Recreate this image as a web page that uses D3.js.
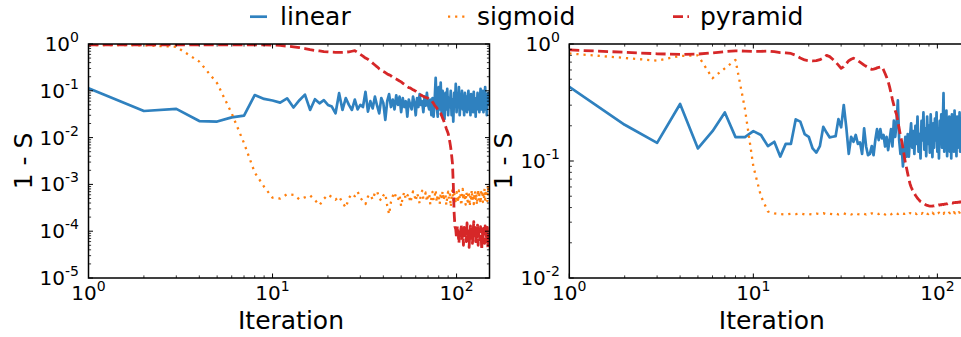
<!DOCTYPE html>
<html>
<head>
<meta charset="utf-8">
<script src="https://cdn.jsdelivr.net/npm/d3@7"></script>
<style>
  html, body { margin: 0; padding: 0; background: #fff; }
  svg { display: block; font-family: "DejaVu Sans", sans-serif; }
</style>
</head>
<body>
<svg id="chart" width="961" height="337"></svg>
<script>
// ---- data -------------------------------------------------------------
const iterations = d3.range(1, 151);            // iteration 1 .. 150
const seriesNames = ["linear", "sigmoid", "pyramid"];

const xTickExponents = [0, 1, 2];
const leftYTickExponents = [0, -1, -2, -3, -4, -5];
const rightYTickExponents = [0, -1, -2];
const xLabel = "Iteration";
const yLabel = "1 - S";

// left panel: 1 - S per iteration
const leftLinear = [
  0.113, 0.037, 0.041, 0.0226, 0.022, 0.027, 0.0295, 0.081, 0.067, 0.062,
  0.056, 0.069, 0.044, 0.063, 0.083, 0.039, 0.066, 0.054, 0.063, 0.05,
  0.046, 0.033, 0.089, 0.039, 0.07, 0.05, 0.039, 0.065, 0.04, 0.05,
  0.045, 0.095, 0.036, 0.06, 0.042, 0.075, 0.048, 0.033, 0.07, 0.055,
  0.024, 0.06, 0.085, 0.045, 0.065, 0.04, 0.08, 0.05, 0.075, 0.035,
  0.07, 0.045, 0.06, 0.028, 0.065, 0.05, 0.04, 0.075, 0.055, 0.03,
  0.07, 0.045, 0.085, 0.05, 0.06, 0.035, 0.075, 0.048, 0.09, 0.05,
  0.04, 0.065, 0.03, 0.07, 0.028, 0.06, 0.19, 0.05, 0.028, 0.12,
  0.04, 0.15, 0.03, 0.1, 0.035, 0.025, 0.09, 0.04, 0.11, 0.03,
  0.07, 0.045, 0.1, 0.03, 0.065, 0.022, 0.09, 0.05, 0.14, 0.035,
  0.08, 0.045, 0.12, 0.03, 0.07, 0.055, 0.1, 0.04, 0.065, 0.03,
  0.09, 0.05, 0.075, 0.035, 0.06, 0.1, 0.04, 0.07, 0.03, 0.085,
  0.045, 0.06, 0.035, 0.095, 0.05, 0.07, 0.028, 0.065, 0.04, 0.09,
  0.05, 0.075, 0.035, 0.06, 0.11, 0.04, 0.08, 0.045, 0.1, 0.035,
  0.065, 0.05, 0.12, 0.04, 0.085, 0.03, 0.07, 0.05, 0.09, 0.06
];
const leftSigmoid = [
  0.95, 0.94, 0.87, 0.42, 0.145, 0.033, 0.0076, 0.0018, 8.9e-4, 5.2e-4,
  5.0e-4, 6.2e-4, 6.0e-4, 4.8e-4, 5.3e-4, 5.8e-4, 4.6e-4, 3.6e-4, 4.9e-4, 6.0e-4,
  5.4e-4, 4.7e-4, 5.5e-4, 4.1e-4, 3.2e-4, 5.1e-4, 6.3e-4, 5.6e-4, 7.0e-4, 5.2e-4,
  4.4e-4, 3.8e-4, 5.5e-4, 6.1e-4, 4.7e-4, 6.6e-4, 7.2e-4, 5.0e-4, 4.5e-4, 5.8e-4,
  6.4e-4, 3.5e-4, 2.3e-4, 4.2e-4, 5.6e-4, 6.8e-4, 5.1e-4, 4.6e-4, 6.0e-4, 3.4e-4,
  5.4e-4, 6.9e-4, 4.8e-4, 5.7e-4, 6.3e-4, 4.1e-4, 5.2e-4, 7.1e-4, 5.9e-4, 4.4e-4,
  6.5e-4, 5.3e-4, 3.9e-4, 6.2e-4, 7.3e-4, 4.9e-4, 5.6e-4, 6.7e-4, 4.3e-4, 5.8e-4,
  6.4e-4, 3.7e-4, 5.1e-4, 6.9e-4, 4.6e-4, 5.5e-4, 7.6e-4, 4.2e-4, 6.1e-4, 5.3e-4,
  3.8e-4, 6.6e-4, 5.0e-4, 7.2e-4, 4.5e-4, 5.9e-4, 6.3e-4, 3.6e-4, 5.4e-4, 7.0e-4,
  4.8e-4, 6.1e-4, 3.3e-4, 5.7e-4, 7.8e-4, 4.4e-4, 6.4e-4, 5.2e-4, 3.9e-4, 6.8e-4,
  5.5e-4, 4.1e-4, 7.4e-4, 5.0e-4, 6.2e-4, 3.5e-4, 5.8e-4, 8.0e-4, 4.7e-4, 6.5e-4,
  5.1e-4, 3.7e-4, 6.9e-4, 5.4e-4, 4.3e-4, 7.1e-4, 5.9e-4, 3.4e-4, 6.3e-4, 5.0e-4,
  7.7e-4, 4.6e-4, 6.0e-4, 3.8e-4, 5.6e-4, 7.3e-4, 4.9e-4, 6.4e-4, 3.6e-4, 5.3e-4,
  7.9e-4, 4.5e-4, 6.1e-4, 5.2e-4, 3.9e-4, 6.8e-4, 5.5e-4, 7.4e-4, 4.2e-4, 6.2e-4,
  5.0e-4, 8.3e-4, 4.7e-4, 6.6e-4, 5.3e-4, 7.5e-4, 4.4e-4, 9.8e-4, 6.9e-4, 8.8e-4
];
const leftPyramid = [
  0.96, 0.96, 0.96, 0.96, 0.96, 0.96, 0.96, 0.96, 0.955, 0.95,
  0.93, 0.9, 0.87, 0.84, 0.8, 0.76, 0.73, 0.71, 0.69, 0.68,
  0.67, 0.665, 0.665, 0.665, 0.67, 0.68, 0.7, 0.72, 0.66, 0.6,
  0.55, 0.5, 0.47, 0.43, 0.39, 0.355, 0.325, 0.295, 0.275, 0.257,
  0.245, 0.229, 0.219, 0.209, 0.195, 0.186, 0.178, 0.17, 0.162, 0.155,
  0.145, 0.138, 0.132, 0.123, 0.117, 0.115, 0.11, 0.105, 0.102, 0.098,
  0.093, 0.089, 0.085, 0.081, 0.079, 0.076, 0.074, 0.072, 0.071, 0.069,
  0.066, 0.065, 0.063, 0.058, 0.054, 0.049, 0.046, 0.043, 0.039, 0.036,
  0.035, 0.033, 0.0295, 0.026, 0.0234, 0.0204, 0.0178, 0.0155, 0.0138, 0.0123,
  0.01, 0.0079, 0.006, 0.0042, 0.0028, 0.001, 2.5e-4, 1.26e-4, 1.1e-4, 0.7e-4,
  1.3e-4, 0.9e-4, 0.55e-4, 1.0e-4, 0.8e-4, 1.4e-4, 0.65e-4, 0.95e-4, 0.5e-4, 1.2e-4,
  0.85e-4, 1.05e-4, 0.6e-4, 1.5e-4, 0.75e-4, 1.0e-4, 0.45e-4, 0.9e-4, 1.3e-4, 0.7e-4,
  1.1e-4, 0.55e-4, 0.95e-4, 1.6e-4, 0.8e-4, 1.2e-4, 0.6e-4, 1.0e-4, 0.75e-4, 1.35e-4,
  0.5e-4, 0.9e-4, 1.1e-4, 0.65e-4, 1.25e-4, 0.85e-4, 0.4e-4, 1.0e-4, 0.7e-4, 1.15e-4,
  0.9e-4, 0.55e-4, 1.3e-4, 0.8e-4, 1.0e-4, 0.6e-4, 1.2e-4, 0.45e-4, 0.95e-4, 0.7e-4
];

// right panel: 1 - S per iteration
const rightLinear = [
  0.43, 0.204, 0.143, 0.307, 0.128, 0.18, 0.26, 0.16, 0.16, 0.18,
  0.167, 0.134, 0.146, 0.109, 0.14, 0.14, 0.227, 0.217, 0.17, 0.161,
  0.128, 0.118, 0.134, 0.196, 0.175, 0.159, 0.161, 0.163, 0.228, 0.194,
  0.301, 0.194, 0.115, 0.161, 0.146, 0.167, 0.14, 0.144, 0.115, 0.19,
  0.133, 0.112, 0.115, 0.134, 0.112, 0.151, 0.187, 0.151, 0.187, 0.156,
  0.167, 0.133, 0.161, 0.124, 0.151, 0.187, 0.133, 0.221, 0.161, 0.21,
  0.33, 0.151, 0.115, 0.133, 0.09, 0.124, 0.161, 0.109, 0.17, 0.109,
  0.16, 0.21, 0.13, 0.18, 0.115, 0.2, 0.14, 0.24, 0.12, 0.17,
  0.105, 0.22, 0.15, 0.26, 0.125, 0.19, 0.11, 0.24, 0.14, 0.2,
  0.118, 0.25, 0.16, 0.108, 0.21, 0.13, 0.23, 0.15, 0.26, 0.12,
  0.19, 0.105, 0.22, 0.14, 0.25, 0.13, 0.2, 0.38, 0.12, 0.23,
  0.15, 0.27, 0.11, 0.21, 0.14, 0.24, 0.12, 0.19, 0.105, 0.25,
  0.15, 0.22, 0.12, 0.27, 0.14, 0.2, 0.11, 0.24, 0.16, 0.21,
  0.13, 0.26, 0.12, 0.2, 0.15, 0.23, 0.11, 0.19, 0.14, 0.22,
  0.12, 0.25, 0.16, 0.2, 0.13, 0.24, 0.11, 0.21, 0.15, 0.19
];
const rightSigmoid = [
  0.83, 0.76, 0.72, 0.79, 0.8, 0.51, 0.62, 0.73, 0.28, 0.09,
  0.05, 0.037, 0.0356, 0.0352, 0.0349, 0.0354, 0.0351, 0.0357, 0.035, 0.0353,
  0.0348, 0.0355, 0.0352, 0.0358, 0.035, 0.0354, 0.0351, 0.0356, 0.0349, 0.0353,
  0.0357, 0.0351, 0.0355, 0.0349, 0.0354, 0.0358, 0.0352, 0.035, 0.0356, 0.0353,
  0.0349, 0.0355, 0.0351, 0.0357, 0.0353, 0.035, 0.0355, 0.0352, 0.0358, 0.0351,
  0.0354, 0.0349, 0.0356, 0.0352, 0.0355, 0.035, 0.0357, 0.0353, 0.0351, 0.0356,
  0.0352, 0.0358, 0.0354, 0.035, 0.0355, 0.0353, 0.0357, 0.0351, 0.0356, 0.0352,
  0.0359, 0.0354, 0.0351, 0.0357, 0.0353, 0.0356, 0.0352, 0.0358, 0.0355, 0.0351,
  0.0357, 0.0354, 0.0359, 0.0352, 0.0356, 0.0353, 0.036, 0.0355, 0.0352, 0.0358,
  0.0354, 0.0357, 0.0353, 0.0361, 0.0356, 0.0352, 0.0358, 0.0355, 0.036, 0.0354,
  0.0357, 0.0362, 0.0355, 0.0359, 0.0356, 0.0361, 0.0357, 0.0354, 0.0362, 0.0358,
  0.036, 0.0356, 0.0363, 0.0359, 0.0357, 0.0362, 0.0358, 0.0364, 0.036, 0.0357,
  0.0363, 0.0359, 0.0365, 0.0361, 0.0358, 0.0364, 0.036, 0.0366, 0.0362, 0.0359,
  0.0365, 0.0362, 0.0367, 0.0363, 0.036, 0.0366, 0.0363, 0.0368, 0.0364, 0.0361,
  0.0367, 0.0364, 0.0369, 0.0365, 0.0362, 0.0368, 0.0365, 0.037, 0.0366, 0.0368
];
const rightPyramid = [
  0.89, 0.85, 0.825, 0.815, 0.82, 0.84, 0.86, 0.875, 0.87, 0.865,
  0.865, 0.87, 0.86, 0.845, 0.84, 0.83, 0.8, 0.76, 0.73, 0.72,
  0.716, 0.72, 0.735, 0.76, 0.8, 0.78, 0.74, 0.7, 0.66, 0.62,
  0.64, 0.68, 0.72, 0.74, 0.755, 0.74, 0.72, 0.7, 0.68, 0.66,
  0.645, 0.63, 0.615, 0.607, 0.61, 0.615, 0.625, 0.63, 0.635, 0.64,
  0.6, 0.56, 0.52, 0.48, 0.43, 0.38, 0.335, 0.3, 0.27, 0.25,
  0.22, 0.19, 0.165, 0.148, 0.13, 0.112, 0.097, 0.087, 0.078, 0.07,
  0.064, 0.06, 0.057, 0.055, 0.053, 0.051, 0.0495, 0.048, 0.047, 0.046,
  0.045, 0.0445, 0.044, 0.0436, 0.043, 0.0425, 0.042, 0.0418, 0.0415, 0.0413,
  0.0412, 0.0412, 0.0411, 0.0412, 0.0414, 0.0413, 0.0416, 0.0415, 0.0418, 0.0417,
  0.0419, 0.0421, 0.042, 0.0423, 0.0422, 0.0426, 0.0425, 0.0424, 0.0428, 0.0427,
  0.0429, 0.0431, 0.043, 0.0433, 0.0432, 0.0435, 0.0434, 0.0436, 0.0435, 0.0438,
  0.0437, 0.0439, 0.0441, 0.044, 0.0442, 0.0441, 0.0443, 0.0444, 0.0442, 0.0445,
  0.0446, 0.0444, 0.0447, 0.0446, 0.0448, 0.0447, 0.0449, 0.045, 0.0448, 0.0451,
  0.045, 0.0452, 0.0451, 0.0453, 0.0452, 0.0454, 0.0453, 0.0455, 0.0454, 0.0456
];

// ---- styling ----------------------------------------------------------
const lineStyles = [
  { color: "#2f81bf", width: 2.7, dash: null },
  { color: "#ff7f0e", width: 2.3, dash: "2.2,4.9" },
  { color: "#d62728", width: 2.8, dash: "10,4.4" }
];
const FONT_TICK = 20, FONT_SUP = 14, FONT_LABEL = 25, FONT_LEGEND = 25;

const svg = d3.select("#chart");

const panels = [
  { left: 88.5, top: 44, width: 401, height: 234, yDomain: [1e-5, 1],
    yExps: leftYTickExponents, data: [leftLinear, leftSigmoid, leftPyramid], yLabelX: 32 },
  { left: 569.3, top: 44, width: 401, height: 234, yDomain: [1e-2, 1],
    yExps: rightYTickExponents, data: [rightLinear, rightSigmoid, rightPyramid], yLabelX: 512 }
];

function powerLabel(g, exp, x, y, anchor) {
  const t = g.append("text")
    .attr("x", x).attr("y", y)
    .attr("text-anchor", anchor)
    .attr("fill", "#000")
    .style("font-size", FONT_TICK + "px");
  t.append("tspan").text("10");
  t.append("tspan").attr("dy", -9).style("font-size", FONT_SUP + "px").text(String(exp));
}

const isPow10 = v => Math.abs(Math.log10(v) - Math.round(Math.log10(v))) < 1e-9;

panels.forEach((p, pi) => {
  const x = d3.scaleLog().domain([1, 151]).range([p.left, p.left + p.width]);
  const y = d3.scaleLog().domain(p.yDomain).range([p.top + p.height, p.top]);
  const bottom = p.top + p.height, right = p.left + p.width;

  const g = svg.append("g");

  const clipId = "clip" + pi;
  svg.append("defs").append("clipPath").attr("id", clipId)
    .append("rect").attr("x", p.left).attr("y", p.top)
    .attr("width", p.width).attr("height", p.height);

  // series
  const line = d3.line()
    .x((d, i) => x(iterations[i]))
    .y(d => y(d));
  const plot = g.append("g").attr("clip-path", `url(#${clipId})`);
  p.data.forEach((vals, si) => {
    const s = lineStyles[si];
    plot.append("path")
      .attr("d", line(vals))
      .attr("fill", "none")
      .attr("stroke", s.color)
      .attr("stroke-width", s.width)
      .attr("stroke-dasharray", s.dash)
      .attr("stroke-linejoin", "round")
      .attr("stroke-linecap", s.dash ? "butt" : "round");
  });

  // ticks (inward, on all four sides)
  const ticks = g.append("g").attr("stroke", "#000");
  const xMajor = xTickExponents.map(e => Math.pow(10, e));
  const xMinor = x.ticks().filter(v => !isPow10(v));
  const yMajor = p.yExps.map(e => Math.pow(10, e));
  const yMinor = y.ticks().filter(v => !isPow10(v));
  const MAJ = 4.5, MIN = 2.6;
  [[xMajor, MAJ, 1], [xMinor, MIN, 0.8]].forEach(([vals, len, w]) => {
    vals.forEach(v => {
      const px = x(v);
      ticks.append("line").attr("x1", px).attr("x2", px).attr("y1", bottom).attr("y2", bottom - len).attr("stroke-width", w);
      ticks.append("line").attr("x1", px).attr("x2", px).attr("y1", p.top).attr("y2", p.top + len).attr("stroke-width", w);
    });
  });
  [[yMajor, MAJ, 1], [yMinor, MIN, 0.8]].forEach(([vals, len, w]) => {
    vals.forEach(v => {
      const py = y(v);
      ticks.append("line").attr("y1", py).attr("y2", py).attr("x1", p.left).attr("x2", p.left + len).attr("stroke-width", w);
      ticks.append("line").attr("y1", py).attr("y2", py).attr("x1", right).attr("x2", right - len).attr("stroke-width", w);
    });
  });

  // frame
  g.append("rect")
    .attr("x", p.left).attr("y", p.top)
    .attr("width", p.width).attr("height", p.height)
    .attr("fill", "none").attr("stroke", "#000").attr("stroke-width", 1.5);

  // tick labels
  xTickExponents.forEach(e => powerLabel(g, e, x(Math.pow(10, e)), bottom + 22, "middle"));
  p.yExps.forEach(e => powerLabel(g, e, p.left - 9.5, y(Math.pow(10, e)) + 7, "end"));

  // axis titles
  g.append("text")
    .attr("x", p.left + p.width / 2 + 2).attr("y", 329)
    .attr("text-anchor", "middle")
    .style("font-size", FONT_LABEL + "px")
    .text(xLabel);
  g.append("text")
    .attr("transform", `translate(${p.yLabelX},${p.top + p.height / 2}) rotate(-90)`)
    .attr("text-anchor", "middle")
    .style("font-size", FONT_LABEL + "px")
    .text(yLabel);
});

// legend
const legendPos = [
  { x1: 250, x2: 267, tx: 280 },
  { x1: 448, x2: 465, tx: 477 },
  { x1: 673, x2: 689, tx: 700 }
];
const legend = svg.append("g");
seriesNames.forEach((name, i) => {
  const s = lineStyles[i], L = legendPos[i];
  legend.append("line")
    .attr("x1", L.x1).attr("x2", L.x2).attr("y1", 16.7).attr("y2", 16.7)
    .attr("stroke", s.color).attr("stroke-width", s.width)
    .attr("stroke-dasharray", s.dash);
  legend.append("text")
    .attr("x", L.tx).attr("y", 24.5)
    .style("font-size", FONT_LEGEND + "px")
    .text(name);
});
</script>
</body>
</html>
